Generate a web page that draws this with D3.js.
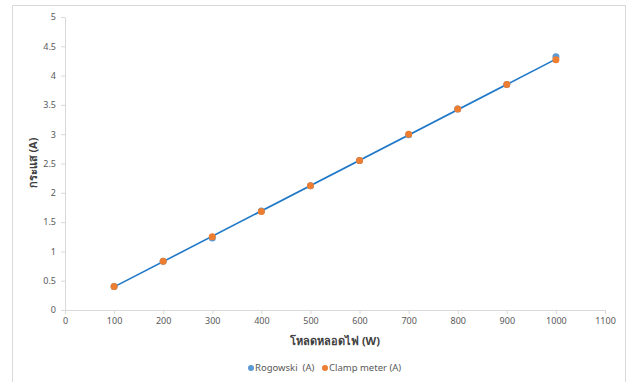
<!DOCTYPE html>
<html><head><meta charset="utf-8">
<script src="https://cdn.jsdelivr.net/npm/d3@7"></script>
<style>body{margin:0;background:#fff}svg{display:block}</style>
</head><body><svg id="c" width="632" height="382"></svg>
<script>
const loads = [100,200,300,400,500,600,700,800,900,1000];
const rogowski = [0.40,0.83,1.23,1.69,2.12,2.55,2.99,3.43,3.85,4.32];
const clamp = [0.40,0.83,1.25,1.68,2.12,2.55,3.00,3.43,3.85,4.27];
const xTicks = [0,100,200,300,400,500,600,700,800,900,1000,1100];
const yTicks = [0,0.5,1,1.5,2,2.5,3,3.5,4,4.5,5];
const seriesNames = ["Rogowski  (A)","Clamp meter (A)"];
const colors = ["#5b9bd5","#ed7d31"];

const svg = d3.select("#c");
const font = "'Noto Sans', 'Liberation Sans', sans-serif";
svg.append("rect").attr("x",12.5).attr("y",5.5).attr("width",613).attr("height",390)
  .attr("fill","#fff").attr("stroke","#d9d9d9");

const x = d3.scaleLinear().domain([0,1100]).range([65,605]);
const y = d3.scaleLinear().domain([0,5]).range([310,17]);

const xa = svg.append("g").attr("transform","translate(0,310)")
  .call(d3.axisBottom(x).tickValues(xTicks).tickSize(4).tickSizeOuter(0).tickPadding(4).tickFormat(d3.format("d")));
const ya = svg.append("g").attr("transform","translate(65,0)")
  .call(d3.axisLeft(y).tickValues(yTicks).tickSize(4).tickSizeOuter(0).tickPadding(5).tickFormat(d3.format("")));
[xa,ya].forEach(a=>{
  a.select(".domain").attr("stroke","#d9d9d9");
  a.selectAll(".tick line").attr("stroke","#d9d9d9");
  a.selectAll(".tick text").attr("fill","#595959").style("font-family",font).style("font-size","9px");
});

// linear trendline (least squares through Clamp meter data)
const mx = d3.mean(loads), my = d3.mean(clamp);
const b = d3.sum(loads.map((v,i)=>(v-mx)*(clamp[i]-my))) / d3.sum(loads.map(v=>(v-mx)*(v-mx)));
const a0 = my - b*mx;
const x0 = d3.min(loads), x1 = d3.max(loads);
svg.append("line").attr("x1",x(x0)).attr("y1",y(a0+b*x0)).attr("x2",x(x1)).attr("y2",y(a0+b*x1))
  .attr("stroke","#1f78c8").attr("stroke-width",1.6);

[rogowski,clamp].forEach((vals,si)=>{
  svg.append("g").selectAll("circle").data(vals).join("circle")
    .attr("cx",(d,i)=>x(loads[i])).attr("cy",d=>y(d)).attr("r",3.5)
    .attr("fill",colors[si]);
});

svg.append("text").attr("transform","translate(37,163) rotate(-90)").attr("text-anchor","middle")
  .style("font-family",font).style("font-size","11px").style("font-weight","bold").attr("fill","#404040")
  .text("กระแส (A)");
svg.append("text").attr("x",335).attr("y",345).attr("text-anchor","middle")
  .style("font-family",font).style("font-size","11px").style("font-weight","bold").attr("fill","#404040")
  .text("โหลดหลอดไฟ (W)");

const legX = [251,325];
seriesNames.forEach((s,i)=>{
  svg.append("circle").attr("cx",legX[i]).attr("cy",368).attr("r",3).attr("fill",colors[i]);
  svg.append("text").attr("x",legX[i]+4).attr("y",371).style("font-family",font).style("font-size","9.5px")
    .style("white-space","pre").attr("fill","#595959").text(s);
});
</script></body></html>
